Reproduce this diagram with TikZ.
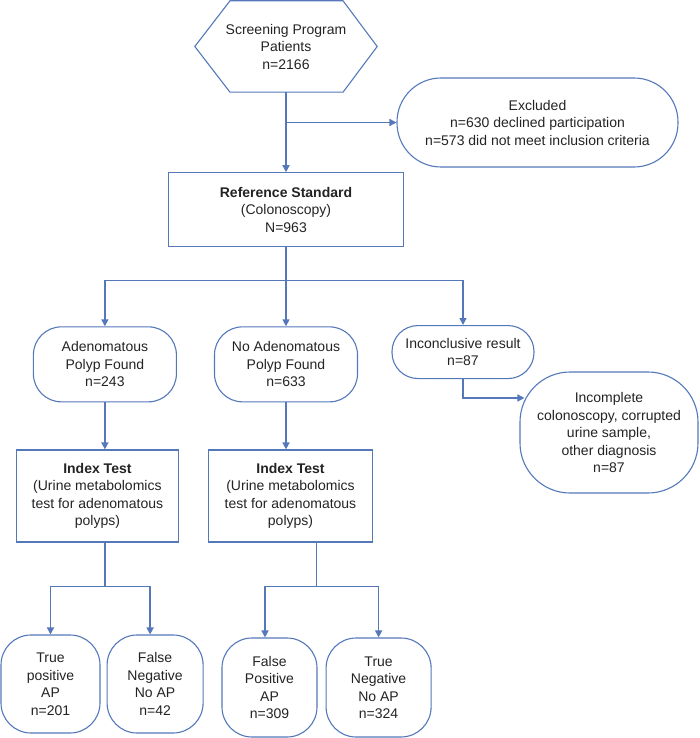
\documentclass[tikz,border=0pt]{standalone}
\usepackage{fontspec}
\setmainfont{Liberation Sans}
\usetikzlibrary{arrows.meta, positioning}

\definecolor{flowblue}{RGB}{84,120,186}
\definecolor{flowtext}{RGB}{35,35,35}

\begin{document}
\begin{tikzpicture}[
        x=1pt, y=-1pt,
        every node/.style={font=\fontsize{14}{17.5}\selectfont, text=flowtext, align=center, inner sep=2pt},
        plainbox/.style={rectangle, draw=flowblue, line width=1.1pt},
        roundbox/.style={rectangle, draw=flowblue, line width=1.1pt, rounded corners=28pt},
        hexline/.style={draw=flowblue, line width=1.1pt, line join=miter},
        link/.style={draw=flowblue, line width=1.5pt},
        flow/.style={-{Triangle[length=7pt, width=7pt]}, draw=flowblue, line width=1.5pt}
    ]
        \useasboundingbox (0,0) rectangle (700,738);

        % top of the chart
        \node[minimum width=182pt, minimum height=91pt] (screen) at (286,46.5) {Screening Program\\ Patients\\ n=2166};
        \draw[hexline] ([xshift=-56pt]screen.north) -- ([xshift=57pt]screen.north) -- (screen.east)
            -- ([xshift=57pt]screen.south) -- ([xshift=-56pt]screen.south) -- (screen.west) -- cycle;
        \node[roundbox, rounded corners=44pt, minimum width=281pt, minimum height=89pt] (excl) at (537.5,122.5) {Excluded\\ n=630 declined participation\\ n=573 did not meet inclusion criteria};
        \node[plainbox, below=80pt of screen, minimum width=235pt, minimum height=74pt] (ref) {\textbf{Reference Standard}\\ (Colonoscopy)\\ N=963};

        % colonoscopy outcome
        \node[roundbox, below=79pt of ref, minimum width=143pt, minimum height=75pt] (nores) {No Adenomatous\\ Polyp Found\\ n=633};
        \node[roundbox, left=37pt of nores, minimum width=143pt, minimum height=75pt] (adeno) {Adenomatous\\ Polyp Found\\ n=243};
        \node[roundbox, rounded corners=26pt, anchor=north, minimum width=142pt, minimum height=53pt] (incon) at (463,325) {Inconclusive result\\ n=87};
        \node[roundbox, rounded corners=50pt, minimum width=178pt, minimum height=121pt] (incompl) at (609,432.5) {Incomplete\\ colonoscopy, corrupted\\ urine sample,\\ other diagnosis\\ n=87};

        % index test
        \node[plainbox, below=47pt of adeno, xshift=-7.5pt, minimum width=162pt, minimum height=92pt] (idxa) {\textbf{Index Test}\\ (Urine metabolomics\\ test for adenomatous\\ polyps)};
        \node[plainbox, below=47pt of nores, xshift=4.5pt, minimum width=164pt, minimum height=92pt] (idxb) {\textbf{Index Test}\\ (Urine metabolomics\\ test for adenomatous\\ polyps)};

        % results
        \node[roundbox, rounded corners=30pt, minimum width=99pt, minimum height=98pt] (tp) at (50.5,684) {True\\ positive\\ AP\\ n=201};
        \node[roundbox, rounded corners=30pt, right=6pt of tp, minimum width=96pt, minimum height=98pt] (fn) {False\\ Negative\\ No AP\\ n=42};
        \node[roundbox, rounded corners=30pt, minimum width=95pt, minimum height=99pt] (fp) at (269.5,687.5) {False\\ Positive\\ AP\\ n=309};
        \node[roundbox, rounded corners=30pt, right=8pt of fp, minimum width=105pt, minimum height=99pt] (tn) {True\\ Negative\\ No AP\\ n=324};

        \draw[flow] (screen.south) -- (ref.north);
        \draw[flow] (screen.south |- excl.west) -- (excl.west);
        \draw[link] (ref.south) -- ++(0,33) coordinate (split);
        \draw[flow] (split) -| (adeno.north);
        \draw[link] (split) -- (split -| nores.north);
        \draw[flow] (split -| nores.north) -- (nores.north);
        \draw[flow] (split) -| (incon.north);
        \draw[flow] (incon.south) |- ([xshift=5pt, yshift=34.5pt]incompl.west);
        \draw[flow] (adeno.south) -- (adeno.south |- idxa.north);
        \draw[flow] (nores.south) -- (nores.south |- idxb.north);
        \draw[link] (adeno.south |- idxa.south) -- ++(0,44) coordinate (splita);
        \draw[flow] (splita) -| (tp.north);
        \draw[flow] (splita) -| ([xshift=-5pt]fn.north);
        \draw[link] ([xshift=26pt]idxb.south) -- ++(0,44) coordinate (splitb);
        \draw[flow] (splitb) -| ([xshift=-4.5pt]fp.north);
        \draw[flow] (splitb) -| (tn.north);
    \end{tikzpicture}
\end{document}
